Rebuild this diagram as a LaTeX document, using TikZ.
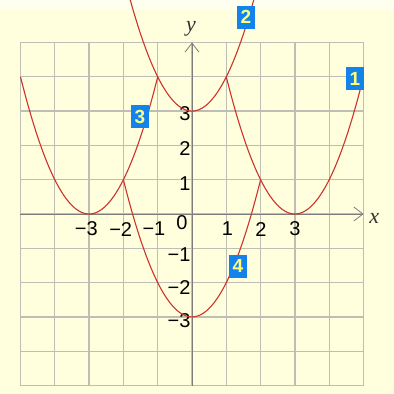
\documentclass[tikz,border=0pt]{standalone}
\usepackage{fontspec}
\setmainfont{Liberation Sans}
\newfontfamily\serifit{Liberation Serif}
\usetikzlibrary{arrows.meta}
\definecolor{bgyellow}{RGB}{255,255,222}
\definecolor{bgtop}{RGB}{255,255,240}
\definecolor{gridgray}{RGB}{190,190,180}
\definecolor{axisgray}{RGB}{125,125,125}
\definecolor{curvered}{RGB}{205,50,45}
\definecolor{boxblue}{RGB}{20,130,235}
\definecolor{digityellow}{RGB}{255,255,120}
\tikzset{
  gridline/.style={draw=gridgray, line width=1.2pt},
  axisline/.style={draw=axisgray, line width=0.9pt, -{Straight Barb[length=9pt,width=14pt,line width=0.8pt]}},
  curve/.style={draw=curvered, line width=1.1pt, samples=80, smooth},
  tick/.style={font=\fontsize{20}{20}\selectfont, inner sep=0pt},
  axlabel/.style={font=\fontsize{22}{22}\serifit\itshape, text=black!80, inner sep=0pt},
  curvelabel/.style={fill=boxblue, text=digityellow, font=\fontsize{19}{19}\selectfont\bfseries,
    minimum width=18pt, minimum height=23pt, inner sep=0pt}
}
\begin{document}
\begin{tikzpicture}[x=34.3pt,y=34.3pt]
\useasboundingbox (-192pt,-180pt) rectangle (202pt,214pt);
\fill[bgyellow] (-192pt,-180pt) rectangle (202pt,214pt);
\fill[bgtop] (-192pt,204pt) rectangle (202pt,214pt);
% grid
\foreach \k in {-5,...,5} {
  \draw[gridline] (\k,-5) -- (\k,5);
  \draw[gridline] (-5,\k) -- (5,\k);
}
% axes
\coordinate (xs) at (-5,0);
\coordinate (xe) at (5,0);
\coordinate (ys) at (0,-5);
\coordinate (ye) at (0,5);
\draw[axisline] (xs) -- (xe);
\draw[axisline] (ys) -- (ye);
\node[axlabel] (xl) at (5.31,-0.12) {x};
\node[axlabel] (yl) at (-0.03,5.4) {y};
% tick labels
\node[tick] (tm3) at (-3.08,-0.44) {−3};
\node[tick] (tm2) at (-2.08,-0.44) {−2};
\node[tick] (tm1) at (-1.11,-0.44) {−1};
\node[tick] (t0) at (-0.29,-0.26) {0};
\node[tick] (t1) at (1.03,-0.44) {1};
\node[tick] (t2) at (2.01,-0.44) {2};
\node[tick] (t3) at (3.0,-0.44) {3};
\node[tick,anchor=east] (u3) at (-0.04,2.94) {3};
\node[tick,anchor=east] (u2) at (-0.04,1.92) {2};
\node[tick,anchor=east] (u1) at (-0.04,0.9) {1};
\node[tick,anchor=east] (um1) at (-0.04,-1.17) {−1};
\node[tick,anchor=east] (um2) at (-0.04,-2.13) {−2};
\node[tick,anchor=east] (um3) at (-0.04,-3.12) {−3};
% curves
\draw[curve,domain=1:5] plot (\x,{(\x-3)^2});
\draw[curve,domain=-1.8:1.8] plot (\x,{\x*\x+3});
\draw[curve,domain=-5:-1] plot (\x,{(\x+3)^2});
\draw[curve,domain=-2:2] plot (\x,{\x*\x-3});
% curve labels
\node[curvelabel] (c1) at (4.75,3.94) {1};
\node[curvelabel] (c2) at (1.57,5.74) {2};
\node[curvelabel] (c3) at (-1.52,2.83) {3};
\node[curvelabel] (c4) at (1.34,-1.52) {4};
\end{tikzpicture}
\end{document}
